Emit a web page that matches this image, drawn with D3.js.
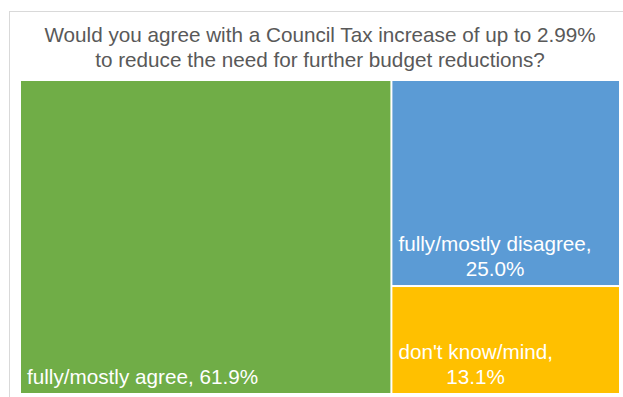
<!DOCTYPE html>
<html>
<head>
<meta charset="utf-8">
<script src="https://cdn.jsdelivr.net/npm/d3@7"></script>
<style>
  html, body { margin: 0; padding: 0; background: #ffffff; }
  svg { display: block; }
  text { font-family: "Liberation Sans", Arial, sans-serif; }
</style>
</head>
<body>
<script>
// Survey answers shown as a treemap
const categories = ["fully/mostly agree", "fully/mostly disagree", "don't know/mind"];
const shares = [61.9, 25.0, 13.1];
const colors = ["#70AD47", "#5B9BD5", "#FFC000"];
const titleLines = [
  "Would you agree with a Council Tax increase of up to 2.99%",
  "to reduce the need for further budget reductions?"
];

const W = 623, H = 397;
const plot = { x: 21, y: 81, w: 598, h: 312 };
const fontSize = 20.7;
const lineHeight = 25;

const svg = d3.select("body").append("svg")
  .attr("width", W).attr("height", H);

// chart frame
svg.append("rect")
  .attr("x", 9.5).attr("y", 11.5)
  .attr("width", 640).attr("height", 420)
  .attr("fill", "#ffffff")
  .attr("stroke", "#D9D9D9")
  .attr("stroke-width", 1);

// title
svg.append("g").selectAll("text")
  .data(titleLines)
  .join("text")
  .attr("x", 320)
  .attr("y", (d, i) => 42 + i * lineHeight)
  .attr("text-anchor", "middle")
  .attr("fill", "#595959")
  .attr("font-size", fontSize)
  .text(d => d);

// hierarchy and layout
const root = d3.hierarchy({
  children: categories.map((name, i) => ({ name, value: shares[i], color: colors[i] }))
})
  .sum(d => d.value || 0)
  .sort((a, b) => b.value - a.value);

d3.treemap()
  .tile(d3.treemapSquarify)
  .size([plot.w, plot.h])
  .paddingInner(2)
  .round(false)(root);

const fmt = d3.format(".1f");

const cell = svg.append("g")
  .attr("transform", `translate(${plot.x},${plot.y})`)
  .selectAll("g")
  .data(root.leaves())
  .join("g");

cell.append("rect")
  .attr("x", d => d.x0)
  .attr("y", d => d.y0)
  .attr("width", d => d.x1 - d.x0)
  .attr("height", d => d.y1 - d.y0)
  .attr("fill", d => d.data.color);

// labels: bottom-left, broken after the comma when they don't fit
cell.each(function (d) {
  const g = d3.select(this);
  const full = `${d.data.name}, ${fmt(d.data.value)}%`;
  const probe = g.append("text").attr("font-size", fontSize).text(full);
  const fits = probe.node().getComputedTextLength() <= (d.x1 - d.x0) - 12;
  probe.remove();

  const lines = fits ? [full] : [`${d.data.name},`, `${fmt(d.data.value)}%`];
  const text = g.append("text")
    .attr("font-size", fontSize)
    .attr("fill", "#ffffff");

  if (fits) {
    text.attr("x", d.x0 + 6).attr("y", d.y1 - 9.5).text(full);
  } else {
    // first line sets the block width; following lines centred under it
    const tmp = g.append("text").attr("font-size", fontSize).text(lines[0]);
    const w0 = tmp.node().getComputedTextLength();
    tmp.remove();
    const cx = d.x0 + 6 + w0 / 2;
    text.attr("text-anchor", "middle");
    lines.forEach((ln, i) => {
      text.append("tspan")
        .attr("x", cx)
        .attr("y", d.y1 - 9.5 - (lines.length - 1 - i) * lineHeight)
        .text(ln);
    });
  }
});
</script>
</body>
</html>
